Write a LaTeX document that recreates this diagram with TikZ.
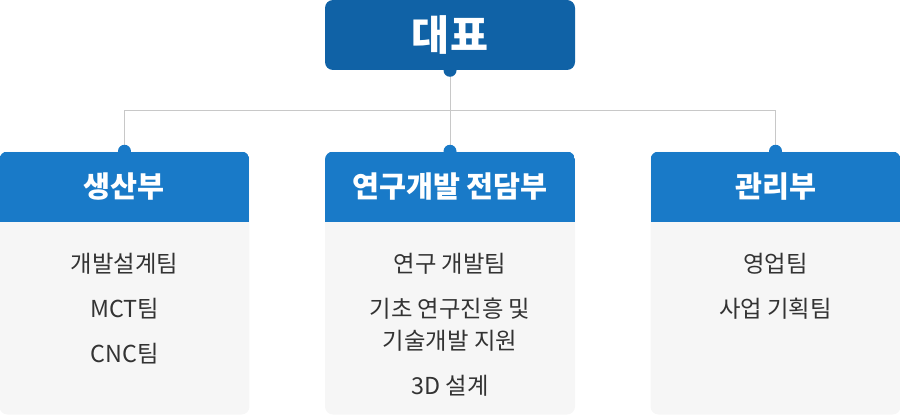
\documentclass[tikz,border=0pt]{standalone}
\usepackage{fontspec}
\setmainfont{Noto Sans CJK KR}
\usepackage{tikz}
\usetikzlibrary{positioning, calc}

\begin{document}
\begin{tikzpicture}[
  x=0.75pt, y=0.75pt,
  every node/.style={
    align=center,
    inner sep=0pt,
  },
  panel/.style={
    fill=panelgray,
    rounded corners=6pt,
    minimum width=187.5pt,
    minimum height=197.25pt,
    path picture={
      \fill[deptblue, sharp corners] (path picture bounding box.north west)
        rectangle ([yshift=-52.5pt]path picture bounding box.north east);
    },
  },
  head/.style={
    minimum width=187.5pt,
    minimum height=52.5pt,
    text=white,
    font=\bfseries\fontsize{22}{24}\selectfont,
  },
  teamlist/.style={
    text=textgray,
    font=\fontsize{17.5}{24}\selectfont,
  },
  link/.style={draw=linegray, line width=0.75pt},
]
  \definecolor{ceoblue}{RGB}{16,98,166}
  \definecolor{deptblue}{RGB}{25,122,200}
  \definecolor{panelgray}{RGB}{246,246,246}
  \definecolor{linegray}{RGB}{200,200,200}
  \definecolor{textgray}{RGB}{51,51,51}
  \useasboundingbox (0,0) rectangle (900,415);

  \node[
    fill=ceoblue,
    rounded corners=6pt,
    minimum width=187.5pt,
    minimum height=52.5pt,
    text=white,
    font=\bfseries\fontsize{31}{32}\selectfont,
  ] (ceo) at (450,380) {대표};

  % departments
  \node[panel, below=60.75pt of ceo] (labbox) {};
  \node[panel, left=56.25pt of labbox] (prodbox) {};
  \node[panel, right=56.25pt of labbox] (adminbox) {};

  \node[head, below=0pt of prodbox.north] (prod) {생산부};
  \node[head, below=0pt of labbox.north] (lab) {연구개발 전담부};
  \node[head, below=0pt of adminbox.north] (admin) {관리부};

  \node[teamlist, below=23.3pt of prod] (prodlist)
  {
    개발설계팀 \\[9.75pt]
    MCT팀 \\[9.75pt]
    CNC팀
  };
  \node[teamlist, below=23.3pt of lab] (lablist)
  {
    연구 개발팀 \\[9.75pt]
    기초 연구진흥 및 \\
    기술개발 지원 \\[9.75pt]
    3D 설계
  };
  \node[teamlist, below=23.3pt of admin] (adminlist)
  {
    영업팀 \\[9.75pt]
    사업 기획팀
  };

  % connectors
  \coordinate (bus) at ($(ceo.south)!0.5!(labbox.north)$);
  \draw[link] (ceo.south) -- (labbox.north);
  \draw[link] (prodbox.north) |- (bus) -| (adminbox.north);

  \fill[ceoblue] (ceo.south) circle (6.5);
  \fill[deptblue] (prodbox.north) circle (6.5);
  \fill[deptblue] (labbox.north) circle (6.5);
  \fill[deptblue] (adminbox.north) circle (6.5);
\end{tikzpicture}
\end{document}
